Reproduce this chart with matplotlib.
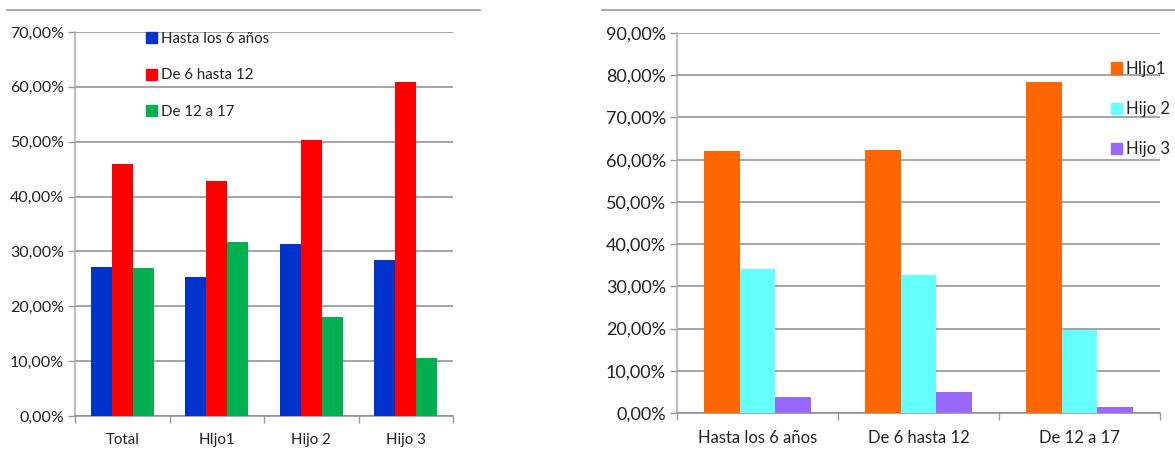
import numpy as np
import matplotlib
matplotlib.use("Agg")
import matplotlib.pyplot as plt
from matplotlib.patches import Patch
from matplotlib.lines import Line2D
from matplotlib.ticker import FuncFormatter, MultipleLocator

plt.rcParams['font.family'] = ['Lato', 'DejaVu Sans']

# Datos grafico izquierdo (por hijo)
cat_izq = ["Total", "HIjo1", "Hijo 2", "Hijo 3"]
series_izq = ["Hasta los 6 años", "De 6 hasta 12", "De 12 a 17"]
hasta6 = [27.2, 25.3, 31.4, 28.5]
de6a12 = [45.9, 42.8, 50.4, 60.8]
de12a17 = [27.0, 31.7, 18.0, 10.6]
colores_izq = ["#0033CC", "#FF0000", "#00B050"]

# Datos grafico derecho (por edad)
cat_der = ["Hasta los 6 años", "De 6 hasta 12", "De 12 a 17"]
series_der = ["HIjo1", "Hijo 2", "Hijo 3"]
hijo1 = [62.0, 62.4, 78.3]
hijo2 = [34.2, 32.7, 19.7]
hijo3 = [3.8, 5.0, 1.35]
colores_der = ["#FF6600", "#66FFFF", "#9966FF"]

W, H = 1175, 450
fig = plt.figure(figsize=(W / 100, H / 100), dpi=100)

fmt = FuncFormatter(lambda v, p: f"{v:.2f}%".replace(".", ","))
txt = "#222222"


def dibujar(ax, cats, nombres, valores, colores, ymax, fs_y, fs_x):
    n = len(nombres)
    w = 1 / (n + 1.5)
    x = np.arange(len(cats))
    for k in range(n):
        ax.bar(x + (k - (n - 1) / 2) * w, valores[k], w, color=colores[k],
               label=nombres[k], zorder=3)
    ax.set_xlim(-0.5, len(cats) - 0.5)
    ax.set_ylim(0, ymax)
    ax.yaxis.set_major_locator(MultipleLocator(10))
    ax.yaxis.set_major_formatter(fmt)
    ax.yaxis.grid(True, color="#8c8c8c", linewidth=1.1, zorder=0)
    ax.set_xticks(x)
    ax.set_xticklabels(cats)
    ax.set_xticks(np.arange(len(cats) + 1) - 0.5, minor=True)
    ax.tick_params(axis="x", which="major", length=0, pad=12, labelsize=fs_x, labelcolor=txt)
    ax.tick_params(axis="x", which="minor", length=5, color="#999999", width=1)
    ax.tick_params(axis="y", length=5, color="#999999", width=1, labelsize=fs_y,
                   labelcolor=txt, pad=3)
    for s in ["top", "right"]:
        ax.spines[s].set_visible(False)
    ax.spines["left"].set_color("#aaaaaa")
    ax.spines["bottom"].set_color("#8c8c8c")
    ax.spines["left"].set_linewidth(1.1)
    ax.spines["bottom"].set_linewidth(1.1)


ax1 = fig.add_axes([75 / W, 1 - 416 / H, (453 - 75) / W, (416 - 32) / H])
dibujar(ax1, cat_izq, series_izq, [hasta6, de6a12, de12a17], colores_izq, 70, 11.5, 10.8)
h1 = [Patch(color=c, label=l) for c, l in zip(colores_izq, series_izq)]
ax1.legend(handles=h1, loc="upper left", bbox_to_anchor=(0.188, 1.0), frameon=False,
           handlelength=0.75, handleheight=0.75, handletextpad=0.25, labelspacing=1.5,
           fontsize=10.8, labelcolor=txt, borderpad=0, borderaxespad=0)

ax2 = fig.add_axes([677 / W, 1 - 413 / H, (1160 - 677) / W, (413 - 33) / H])
dibujar(ax2, cat_der, series_der, [hijo1, hijo2, hijo3], colores_der, 90, 13, 12)
h2 = [Patch(color=c, label=l) for c, l in zip(colores_der, series_der)]
ax2.legend(handles=h2, loc="upper left", bbox_to_anchor=(0.898, 0.926), frameon=False,
           handlelength=0.7, handleheight=0.7, handletextpad=0.2, labelspacing=1.45,
           fontsize=12, labelcolor=txt, borderpad=0, borderaxespad=0)

# lineas superiores de los marcos
fig.add_artist(Line2D([7 / W, 480 / W], [1 - 10 / H] * 2, color="#999999", lw=1.2))
fig.add_artist(Line2D([602 / W, 1.0], [1 - 10 / H] * 2, color="#999999", lw=1.2))

fig.savefig("out.png", dpi=100, facecolor="white")
